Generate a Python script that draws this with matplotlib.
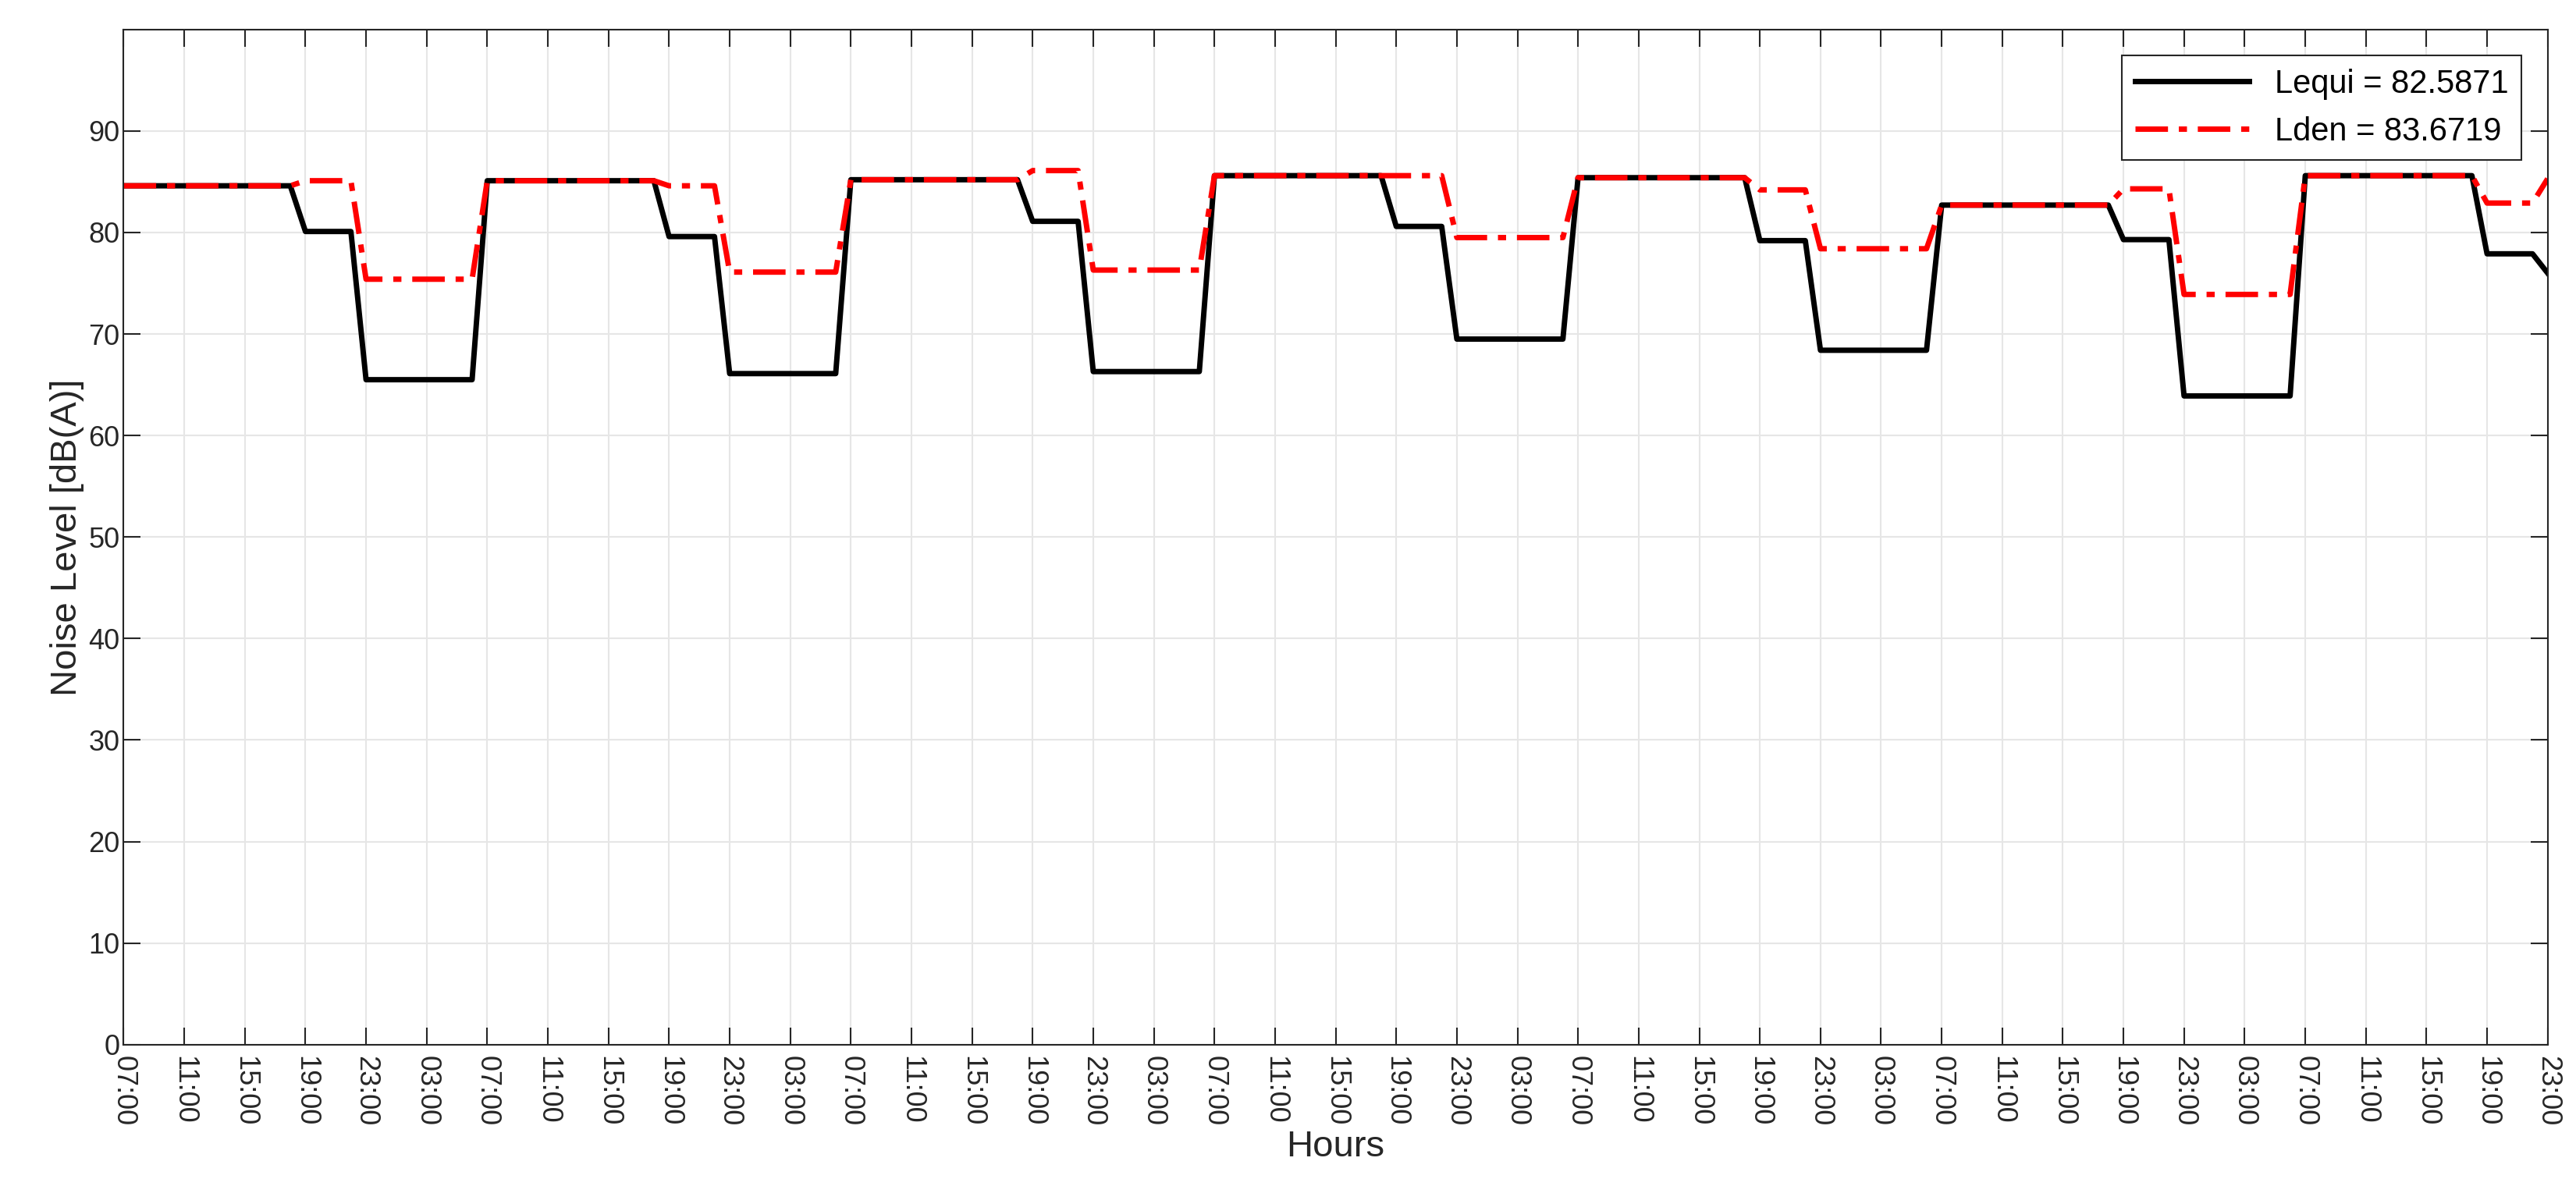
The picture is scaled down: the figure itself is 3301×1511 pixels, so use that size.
import numpy as np
import matplotlib
matplotlib.use("Agg")
import matplotlib.pyplot as plt

plt.rcParams['font.family'] = ['Liberation Sans', 'DejaVu Sans']

# plateau levels read per day (day 07-18, evening 19-22, night 23-06)
day_level = [84.6, 85.1, 85.2, 85.6, 85.4, 82.7, 85.6]
lequi_evening = [80.1, 79.6, 81.1, 80.6, 79.2, 79.3, 77.9]
lden_evening = [85.1, 84.6, 86.1, 85.6, 84.2, 84.3, 82.9]
lequi_night = [65.5, 66.1, 66.3, 69.5, 68.4, 63.9]
lden_night = [75.4, 76.1, 76.3, 79.5, 78.4, 73.9]
lequi_last = 76.0   # last sample, 23:00 day 7
lden_last = 85.3

tick_labels = (["07:00", "11:00", "15:00", "19:00", "23:00", "03:00"] * 6
               + ["07:00", "11:00", "15:00", "19:00", "23:00"])


def build(evening, night, last):
    vals = []
    for d in range(7):
        vals += [day_level[d]] * 12 + [evening[d]] * 4
        if d < 6:
            vals += [night[d]] * 8
    vals.append(last)
    return np.array(vals)


lequi = build(lequi_evening, lequi_night, lequi_last)
lden = build(lden_evening, lden_night, lden_last)
hours = np.arange(len(lequi))

fig = plt.figure(figsize=(33.01, 15.11), dpi=100)
ax = fig.add_axes([0.048, 0.114, 0.941, 0.861])

ax.plot(hours, lequi, color='black', lw=5, label='Lequi = 82.5871')
ax.plot(hours, lden, color='red', lw=5, ls='-.', dashes=(6, 2, 1.5, 2),
        label='Lden = 83.6719')

ax.set_xlim(0, hours[-1])
ax.set_ylim(0, 100)
ax.set_yticks(np.arange(0, 100, 10))
ax.set_xticks(np.arange(0, hours[-1] + 1, 4))
ax.set_xticklabels(tick_labels, rotation=-90)

ax.grid(True, color='#e6e6e6', lw=1.5)
ax.tick_params(direction='in', length=16, width=1.5, labelsize=26,
               colors='#262626', top=True, right=True)
ax.tick_params(axis='x', pad=10)
for s in ax.spines.values():
    s.set_color('#262626')
    s.set_linewidth(1.5)

ax.set_xlabel('Hours', fontsize=34, color='#262626', labelpad=4)
ax.set_ylabel('Noise Level [dB(A)]', fontsize=34, color='#262626')

leg = ax.legend(loc='upper right', fontsize=30, fancybox=False,
                framealpha=1, edgecolor='#262626', handlelength=3.5,
                borderaxespad=0.8)
leg.get_frame().set_linewidth(1.5)

fig.savefig('out.png')
